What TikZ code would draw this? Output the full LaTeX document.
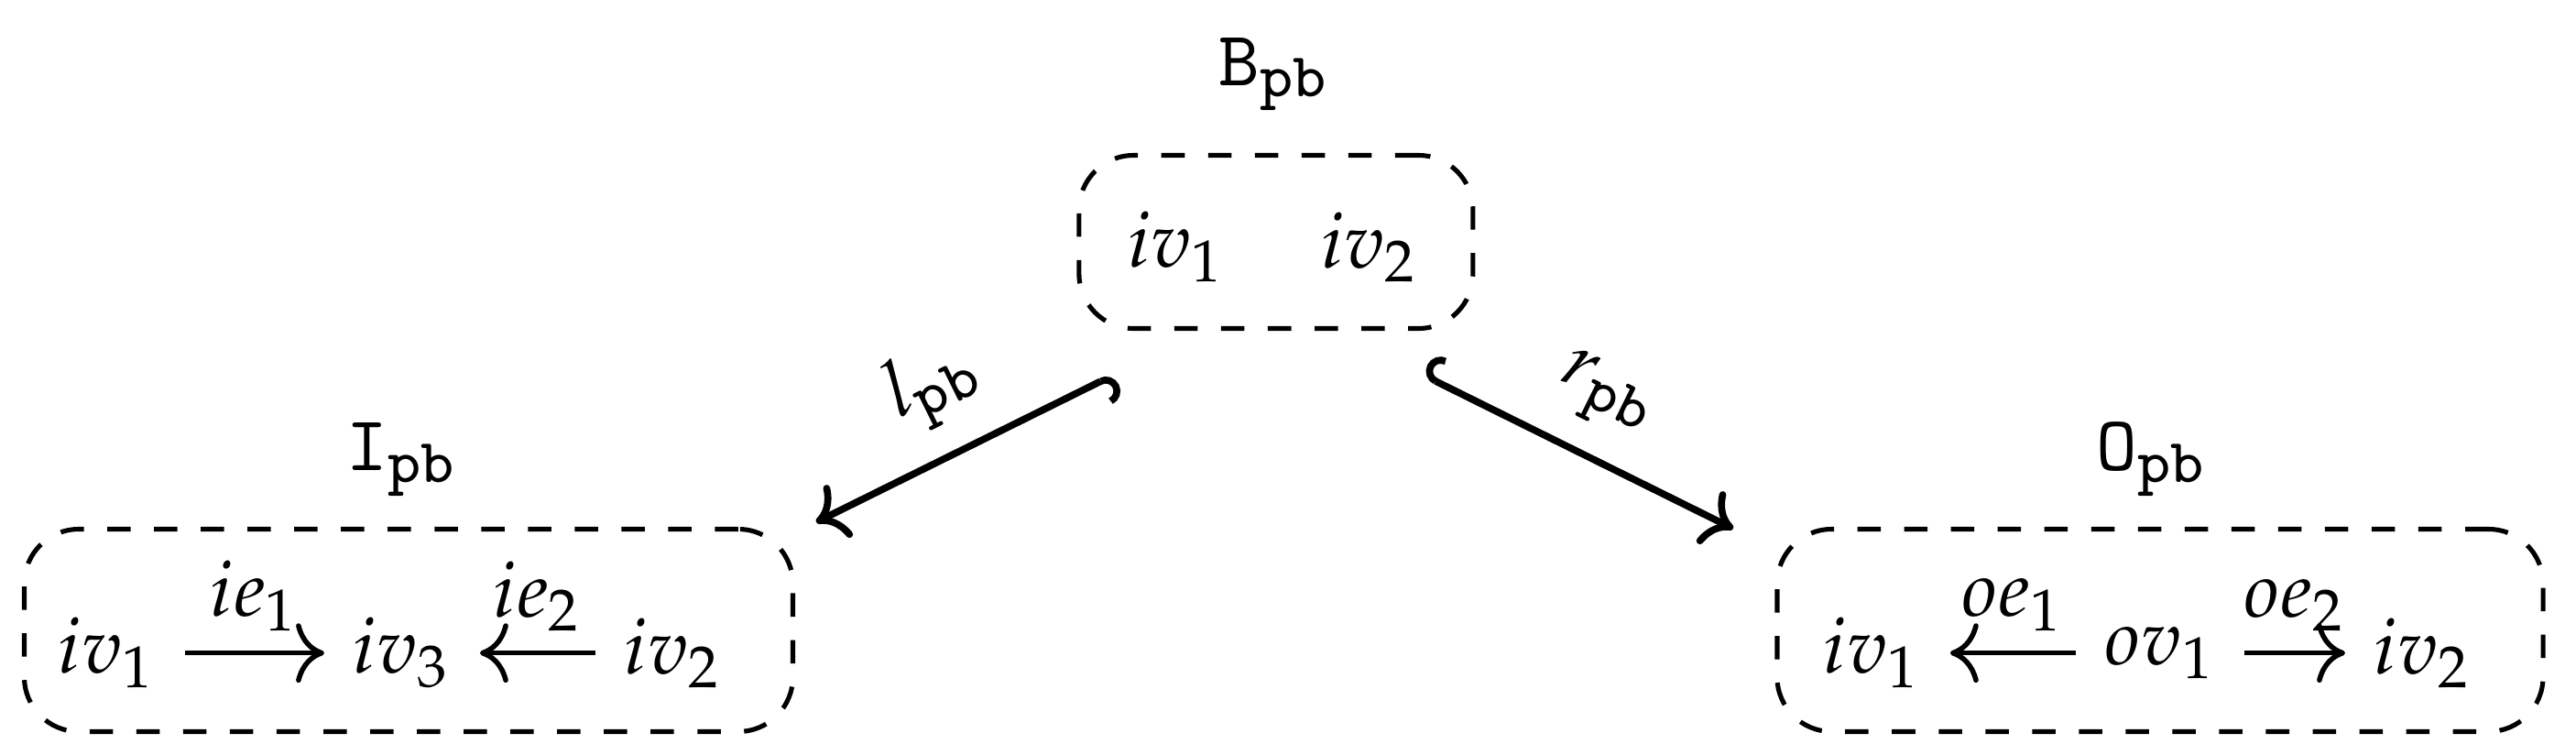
\documentclass[tikz,border=0pt]{standalone}
\usepackage{mathpazo}
\usetikzlibrary{arrows.meta,positioning}
\tikzset{
    pb/diagram/.style={line join=round, every node/.style={inner sep=2pt}},
    pb/box/.style={draw, dashed, rounded corners=7pt, line width=0.6pt},
    pb/title/.style={inner sep=0pt},
    pb/vertex/.style={inner sep=1.5pt},
    pb/edge/.style={line width=0.65pt, -{Computer Modern Rightarrow[scale=1.2]},
        shorten <=2pt, shorten >=2pt},
    pb/elabel/.style={above, inner sep=2.5pt},
    pb/morphism/.style={line width=0.9pt,
        {Hooks[right]}-{Computer Modern Rightarrow}},
    pb/mlabel/.style={above, sloped, inner sep=3.5pt}
}
\begin{document}
\begin{tikzpicture}[pb/diagram]
    \useasboundingbox (0,0) rectangle (11.62,3.405);
    % middle graph
    \node[pb/box, minimum width=1.777cm, minimum height=0.781cm] (Bbox) at (5.756,2.314) {};
    \node[pb/title] (Btitle) at (5.748,3.070) {$\mathtt{B}_{\mathtt{pb}}$};
    \node[pb/vertex] (Bv1) at (5.306,2.290) {$iv_1$};
    \node[pb/vertex] (Bv2) at (6.178,2.290) {$iv_2$};
    % left graph
    \node[pb/box, minimum width=3.467cm, minimum height=0.913cm] (Ibox) at (1.843,0.562) {};
    \node[pb/title] (Ititle) at (1.814,1.331) {$\mathtt{I}_{\mathtt{pb}}$};
    \node[pb/vertex] (Iv1) at (0.483,0.460) {$iv_1$};
    \node[pb/vertex] (Iv3) at (1.814,0.460) {$iv_3$};
    \node[pb/vertex] (Iv2) at (3.037,0.460) {$iv_2$};
    \draw[pb/edge] (Iv1) -- node[pb/elabel] {$ie_1$} (Iv3);
    \draw[pb/edge] (Iv2) -- node[pb/elabel] {$ie_2$} (Iv3);
    % right graph
    \node[pb/box, minimum width=3.455cm, minimum height=0.913cm] (Obox) at (9.744,0.562) {};
    \node[pb/title] (Otitle) at (9.707,1.331) {$\mathtt{O}_{\mathtt{pb}}$};
    \node[pb/vertex] (Ov1) at (9.744,0.460) {$ov_1$};
    \node[pb/vertex] (Oi1) at (8.446,0.460) {$iv_1$};
    \node[pb/vertex] (Oi2) at (10.930,0.460) {$iv_2$};
    \draw[pb/edge] (Ov1) -- node[pb/elabel] {$oe_1$} (Oi1);
    \draw[pb/edge] (Ov1) -- node[pb/elabel] {$oe_2$} (Oi2);
    % span morphisms
    \coordinate (lstart) at (5.025,1.715);
    \coordinate (lend) at (3.682,1.050);
    \coordinate (rstart) at (6.417,1.715);
    \coordinate (rend) at (7.818,1.021);
    \draw[pb/morphism] (lstart) -- node[pb/mlabel] {$l_{\mathtt{pb}}$} (lend);
    \draw[pb/morphism] (rstart) -- node[pb/mlabel] {$r_{\mathtt{pb}}$} (rend);
\end{tikzpicture}
\end{document}
